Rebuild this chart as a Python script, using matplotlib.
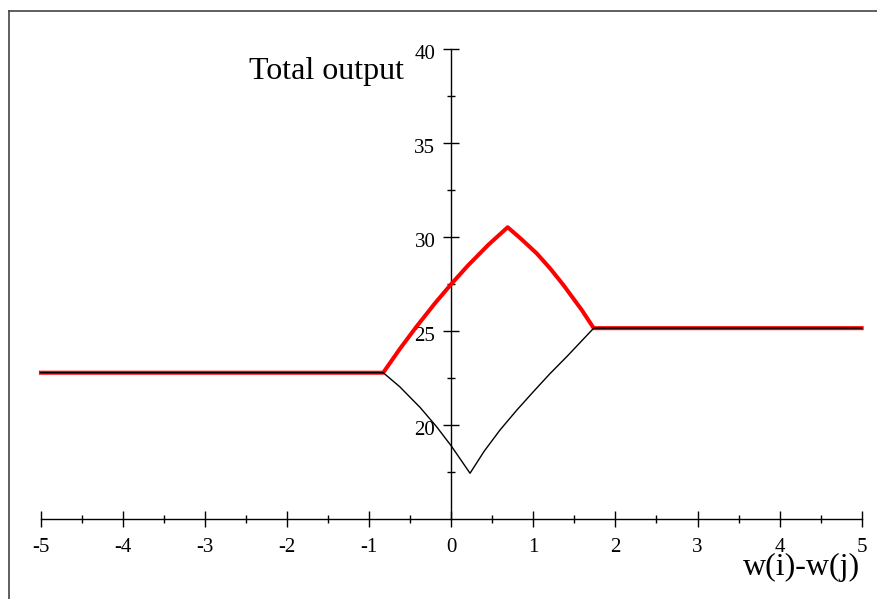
import matplotlib
matplotlib.use("Agg")
import matplotlib.pyplot as plt
import matplotlib.transforms as mtransforms
from matplotlib.lines import Line2D
from matplotlib.ticker import MultipleLocator, FixedLocator

# ---- data ----
red_x = [-5.0, -0.83, -0.63, -0.43, -0.2, 0.0, 0.2, 0.45, 0.687,
         0.85, 1.04, 1.2, 1.365, 1.589, 1.735, 5.0]
red_y = [22.78, 22.78, 24.03, 25.2, 26.47, 27.5, 28.47, 29.58, 30.52,
         29.9, 29.13, 28.35, 27.45, 26.12, 25.15, 25.15]

black_x = [-5.0, -0.83, -0.63, -0.38, -0.18, 0.0, 0.228,
           0.4, 0.593, 0.8, 1.0, 1.2, 1.406, 1.735, 5.0]
black_y = [22.78, 22.78, 22.04, 20.93, 19.91, 18.88, 17.43,
           18.6, 19.73, 20.8, 21.77, 22.72, 23.63, 25.15, 25.15]

x_ticks = [-5, -4, -3, -2, -1, 0, 1, 2, 3, 4, 5]
y_ticks = [20, 25, 30, 35, 40]

plt.rcParams['font.family'] = ['Liberation Serif', 'DejaVu Serif']

fig = plt.figure(figsize=(8.78, 5.99), dpi=100)
ax = fig.add_axes([0, 0, 1, 1])
ax.set_xlim(-5.499, 5.199)
ax.set_ylim(10.74, 42.61)

ax.plot(red_x, red_y, color='#ff0000', lw=2.9, solid_joinstyle='round', zorder=3)
ax.plot(black_x, black_y, color='black', lw=1.0, zorder=4)

for s in ['top', 'right']:
    ax.spines[s].set_visible(False)
ax.spines['left'].set_position(('data', 0))
ax.spines['bottom'].set_position(('data', 15))
ax.spines['left'].set_bounds(15, 40)
ax.spines['bottom'].set_bounds(-5, 5)
ax.spines['left'].set_linewidth(1.0)
ax.spines['bottom'].set_linewidth(1.0)

ax.xaxis.set_major_locator(FixedLocator(x_ticks))
ax.xaxis.set_minor_locator(MultipleLocator(0.5))
ax.yaxis.set_major_locator(FixedLocator(y_ticks))
ax.yaxis.set_minor_locator(FixedLocator([17.5, 22.5, 27.5, 32.5, 37.5]))
ax.set_xticklabels([str(v) for v in x_ticks])
ax.set_yticklabels([str(v) for v in y_ticks])

ax.tick_params(axis='x', which='major', direction='inout', length=11, width=1.0,
               labelsize=15, pad=8)
ax.tick_params(axis='x', which='minor', direction='inout', length=5.5, width=1.0)
ax.tick_params(axis='y', which='major', direction='inout', length=11, width=1.0,
               labelsize=15, pad=6)
ax.tick_params(axis='y', which='minor', direction='inout', length=5.5, width=1.0)

shift = mtransforms.ScaledTranslation(0, -3 / 100, fig.dpi_scale_trans)
for lab in ax.get_yticklabels():
    lab.set_transform(lab.get_transform() + shift)

ax.text(-2.465, 38.4, 'Total output', fontsize=23, ha='left', va='baseline')
ax.text(4.978, 12.02, 'w(i)-w(j)', fontsize=23, ha='right', va='baseline')

# figure frame (top and left edges visible)
fig.add_artist(Line2D([9.5 / 878, 1.0], [1 - 10.5 / 599, 1 - 10.5 / 599],
                      transform=fig.transFigure, color='#444444', lw=1.2))
fig.add_artist(Line2D([9.5 / 878, 9.5 / 878], [0, 1 - 10.5 / 599],
                      transform=fig.transFigure, color='#444444', lw=1.2))

fig.savefig('out.png', dpi=100)
